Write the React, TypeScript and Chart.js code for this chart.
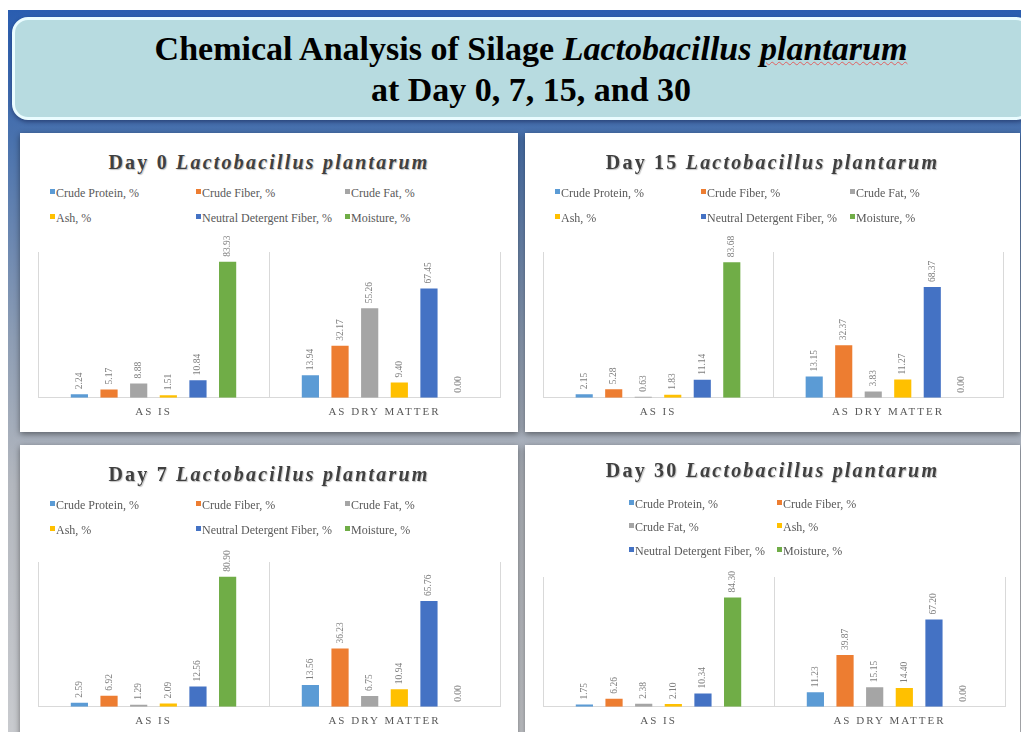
import React, { useEffect, useRef } from "react";
import { Chart, registerables } from "chart.js";
Chart.register(...registerables);

const categories = ["AS IS", "AS DRY MATTER"];
const seriesNames = [
  "Crude Protein, %",
  "Crude Fiber, %",
  "Crude Fat, %",
  "Ash, %",
  "Neutral Detergent Fiber, %",
  "Moisture, %",
];
const seriesColors = ["#5B9BD5", "#ED7D31", "#A5A5A5", "#FFC000", "#4472C4", "#70AD47"];

const day0AsIs = [2.24, 5.17, 8.88, 1.51, 10.84, 83.93];
const day0DryMatter = [13.94, 32.17, 55.26, 9.4, 67.45, 0.0];
const day7AsIs = [2.59, 6.92, 1.29, 2.09, 12.56, 80.9];
const day7DryMatter = [13.56, 36.23, 6.75, 10.94, 65.76, 0.0];
const day15AsIs = [2.15, 5.28, 0.63, 1.83, 11.14, 83.68];
const day15DryMatter = [13.15, 32.37, 3.83, 11.27, 68.37, 0.0];
const day30AsIs = [1.75, 6.26, 2.38, 2.1, 10.34, 84.3];
const day30DryMatter = [11.23, 39.87, 15.15, 14.4, 67.2, 0.0];

const SERIF = "'Liberation Serif', 'DejaVu Serif', serif";

const labelPlugin = {
  id: "barValueLabels",
  beforeDraw(chart: any) {
    (chart.ctx as any).letterSpacing = "2px";
  },
  afterDatasetsDraw(chart: any) {
    const ctx = chart.ctx;
    ctx.save();
    (ctx as any).letterSpacing = "0px";
    ctx.font = `9.5px ${SERIF}`;
    ctx.fillStyle = "#7f7f7f";
    ctx.textAlign = "left";
    ctx.textBaseline = "middle";
    chart.data.datasets.forEach((ds: any, di: number) => {
      const meta = chart.getDatasetMeta(di);
      meta.data.forEach((bar: any, i: number) => {
        const v = ds.data[i];
        ctx.save();
        ctx.translate(bar.x, bar.y - 5);
        ctx.rotate(-Math.PI / 2);
        ctx.fillText(Number(v).toFixed(2), 0, 0);
        ctx.restore();
      });
    });
    ctx.restore();
  },
};

type PanelProps = {
  left: number;
  top: number;
  width: number;
  height: number;
  day: string;
  asIs: number[];
  dryMatter: number[];
  yMax: number;
  titleY: number;
  legendCols: number[];
  legendRows: number[];
  legendColumns: number;
  plotLeft: number;
  plotRight: number;
  plotTop: number;
  plotBottom: number;
};

function Panel(p: PanelProps) {
  const ref = useRef<HTMLCanvasElement | null>(null);
  const canvasTop = p.plotTop - 32;
  const canvasH = p.plotBottom + 24 - canvasTop;
  useEffect(() => {
    if (!ref.current) return;
    const datasets = seriesNames.map((name, i) => ({
      label: name,
      data: [p.asIs[i], p.dryMatter[i]],
      backgroundColor: seriesColors[i],
      categoryPercentage: 0.77,
      barPercentage: 0.58,
    }));
    const chart = new Chart(ref.current, {
      type: "bar",
      data: { labels: categories, datasets },
      options: {
        animation: false,
        responsive: false,
        maintainAspectRatio: false,
        layout: {
          padding: { left: p.plotLeft, right: p.width - p.plotRight, top: 32, bottom: 0 },
        },
        plugins: {
          legend: { display: false },
          title: { display: false },
          tooltip: { enabled: false },
        },
        scales: {
          x: {
            grid: { color: "#d9d9d9", offset: true, drawTicks: false },
            border: { color: "#d9d9d9" },
            ticks: {
              font: { family: SERIF, size: 11 },
              color: "#595959",
              padding: 8,
            },
          },
          y: { display: false, min: 0, max: p.yMax },
        },
      },
      plugins: [labelPlugin],
    } as any);
    return () => chart.destroy();
  }, []);

  return (
    <div
      style={{
        position: "absolute",
        left: p.left,
        top: p.top,
        width: p.width,
        height: p.height,
        background: "#ffffff",
        boxShadow: "0 2px 6px rgba(0,0,0,0.45)",
      }}
    >
      <div
        style={{
          position: "absolute",
          left: 0,
          width: p.width,
          top: p.titleY - 13,
          height: 26,
          lineHeight: "26px",
          textAlign: "center",
          fontFamily: SERIF,
          fontWeight: "bold",
          fontSize: 20,
          letterSpacing: "2.2px",
          color: "#404040",
          textShadow: "1px 1px 1px rgba(0,0,0,0.25)",
          whiteSpace: "nowrap",
        }}
      >
        Day {p.day} <i>Lactobacillus</i> <i>plantarum</i>
      </div>
      {seriesNames.map((name, i) => {
        const col = i % p.legendColumns;
        const row = Math.floor(i / p.legendColumns);
        return (
          <div
            key={name}
            style={{
              position: "absolute",
              left: p.legendCols[col],
              top: p.legendRows[row] - 8,
              height: 16,
              lineHeight: "16px",
              fontFamily: SERIF,
              fontSize: 12,
              color: "#595959",
              whiteSpace: "nowrap",
            }}
          >
            <span
              style={{
                display: "inline-block",
                width: 5,
                height: 5,
                background: seriesColors[i],
                marginRight: 1,
                verticalAlign: "3px",
              }}
            />
            {name}
          </div>
        );
      })}
      <canvas
        ref={ref}
        width={p.width}
        height={canvasH}
        style={{ position: "absolute", left: 0, top: canvasTop, width: p.width, height: canvasH }}
      />
    </div>
  );
}

export default function App() {
  return (
    <div style={{ position: "relative", width: 1029, height: 740, overflow: "hidden", margin: -8 }}>
      <div
        style={{
          position: "absolute",
          left: 5,
          top: 10,
          width: 1024,
          height: 730,
          background:
            "linear-gradient(180deg, #2a5db0 0%, #4a72ad 18%, #8d9db4 45%, #b3b7be 65%, #c9cbcf 100%)",
        }}
      />
      <div
        style={{
          position: "absolute",
          left: 12,
          top: 17,
          width: 1020,
          height: 103,
          borderRadius: 16,
          background: "#b7dbe0",
          border: "3px solid #eafcff",
          boxShadow: "0 2px 4px rgba(0,0,40,0.4)",
          boxSizing: "border-box",
        }}
      />
      <div
        style={{
          position: "absolute",
          left: 28,
          top: 28,
          width: 1006,
          textAlign: "center",
          fontFamily: SERIF,
          fontWeight: "bold",
          fontSize: 34,
          lineHeight: "41px",
          color: "#000000",
        }}
      >
        <div style={{ whiteSpace: "nowrap" }}>
          Chemical Analysis of Silage <i>Lactobacillus</i>{" "}
          <i
            style={{
              textDecorationLine: "underline",
              textDecorationStyle: "wavy",
              textDecorationColor: "#e06060",
              textDecorationThickness: "1px",
            }}
          >
            plantarum
          </i>
        </div>
        <div style={{ whiteSpace: "nowrap" }}>at Day 0, 7, 15, and 30</div>
      </div>

      <Panel
        left={20}
        top={133}
        width={498}
        height={299}
        day="0"
        asIs={day0AsIs}
        dryMatter={day0DryMatter}
        yMax={90}
        titleY={29}
        legendCols={[30, 176, 325]}
        legendRows={[60, 85]}
        legendColumns={3}
        plotLeft={18}
        plotRight={480}
        plotTop={119}
        plotBottom={270}
      />
      <Panel
        left={525}
        top={133}
        width={495}
        height={299}
        day="15"
        asIs={day15AsIs}
        dryMatter={day15DryMatter}
        yMax={90}
        titleY={29}
        legendCols={[30, 176, 325]}
        legendRows={[60, 85]}
        legendColumns={3}
        plotLeft={18}
        plotRight={478}
        plotTop={119}
        plotBottom={270}
      />
      <Panel
        left={20}
        top={445}
        width={498}
        height={295}
        day="7"
        asIs={day7AsIs}
        dryMatter={day7DryMatter}
        yMax={90}
        titleY={29}
        legendCols={[30, 176, 325]}
        legendRows={[60, 85]}
        legendColumns={3}
        plotLeft={18}
        plotRight={480}
        plotTop={117}
        plotBottom={267}
      />
      <Panel
        left={525}
        top={445}
        width={495}
        height={290}
        day="30"
        asIs={day30AsIs}
        dryMatter={day30DryMatter}
        yMax={100}
        titleY={25}
        legendCols={[104, 252]}
        legendRows={[59, 82, 106]}
        legendColumns={2}
        plotLeft={18}
        plotRight={480}
        plotTop={132}
        plotBottom={267}
      />
    </div>
  );
}
